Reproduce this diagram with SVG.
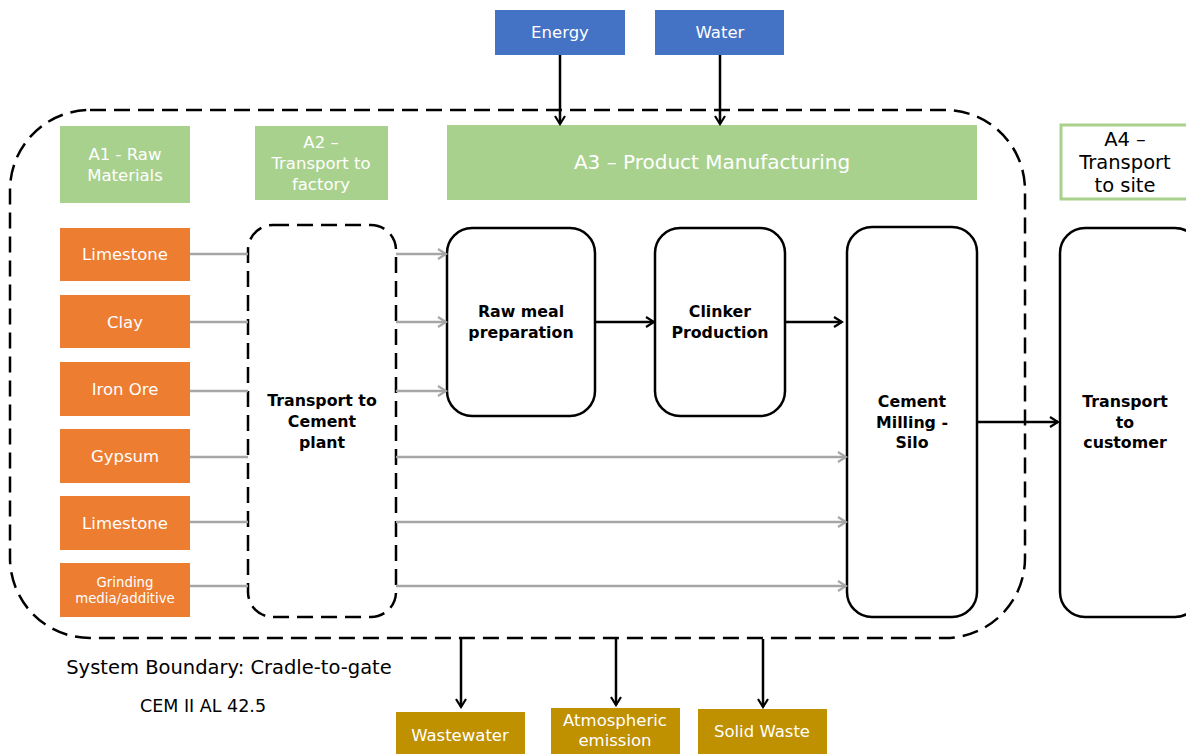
<svg xmlns="http://www.w3.org/2000/svg" width="1186" height="754" viewBox="0 0 1186 754">
<defs>
<style>
text{font-family:"DejaVu Sans","Noto Sans",sans-serif;text-anchor:middle}
.g{fill:#A9D18E}
.gt{fill:#fff;font-size:16.5px}
.o{fill:#ED7D31}
.ot{fill:#fff;font-size:16.5px}
.b{fill:#4472C4}
.y{fill:#BF9000}
.n{fill:#fff;stroke:#000;stroke-width:2.5}
.nt{fill:#000;font-size:15.8px;font-weight:bold}
.gl{stroke:#A6A6A6;stroke-width:2.5;fill:none}
.bl{stroke:#000;stroke-width:2.5;fill:none}
.dash{fill:none;stroke:#000;stroke-width:2.5;stroke-dasharray:16 8}
</style>
<marker id="ab" viewBox="0 0 12 12" refX="10" refY="6" markerWidth="12" markerHeight="12" markerUnits="userSpaceOnUse" orient="auto"><path d="M2,1 L10,6 L2,11" fill="none" stroke="#000" stroke-width="2.2"/></marker>
<marker id="ag" viewBox="0 0 12 12" refX="10" refY="6" markerWidth="12" markerHeight="12" markerUnits="userSpaceOnUse" orient="auto"><path d="M2,1 L10,6 L2,11" fill="none" stroke="#A6A6A6" stroke-width="2.2"/></marker>
</defs>
<rect width="1186" height="754" fill="#fff"/>
<g id="boundary"><rect class="dash" x="10" y="110" width="1015" height="528" rx="80"/></g>
<g id="a1"><rect class="g" x="60" y="126" width="130" height="77"/><text class="gt" x="125" y="160">A1 - Raw</text><text class="gt" x="125" y="181">Materials</text></g>
<g id="a2"><rect class="g" x="255" y="126" width="133" height="74"/><text class="gt" x="321" y="148">A2 –</text><text class="gt" x="321" y="169">Transport to</text><text class="gt" x="321" y="190">factory</text></g>
<g id="a3"><rect class="g" x="447" y="125" width="530" height="75"/><text class="gt" x="712" y="169" style="font-size:20px">A3 – Product Manufacturing</text></g>
<g id="a4"><rect x="1061" y="125" width="130" height="74" fill="#fff" stroke="#A9D18E" stroke-width="3"/><text x="1125" y="146" style="font-size:19.5px">A4 –</text><text x="1125" y="169" style="font-size:19.5px">Transport</text><text x="1125" y="192" style="font-size:19.5px">to site</text></g>
<g id="energy"><rect class="b" x="495" y="10" width="130" height="45"/><text class="gt" x="560" y="38">Energy</text></g>
<g id="water"><rect class="b" x="655" y="10" width="129" height="45"/><text class="gt" x="720" y="38">Water</text></g>
<g id="limestone1"><rect class="o" x="60" y="228" width="130" height="53"/><text class="ot" x="125" y="260">Limestone</text></g>
<g id="clay"><rect class="o" x="60" y="295" width="130" height="53"/><text class="ot" x="125" y="328">Clay</text></g>
<g id="ironore"><rect class="o" x="60" y="362" width="130" height="54"/><text class="ot" x="125" y="395">Iron Ore</text></g>
<g id="gypsum"><rect class="o" x="60" y="429" width="130" height="54"/><text class="ot" x="125" y="462">Gypsum</text></g>
<g id="limestone2"><rect class="o" x="60" y="496" width="130" height="54"/><text class="ot" x="125" y="529">Limestone</text></g>
<g id="grinding"><rect class="o" x="60" y="563" width="130" height="54"/><text class="ot" x="125" y="587" style="font-size:13.3px">Grinding</text><text class="ot" x="125" y="603" style="font-size:13.3px">media/additive</text></g>
<g id="transport"><rect class="dash" x="248" y="225" width="148" height="392" rx="25"/><text class="nt" x="322" y="406">Transport to</text><text class="nt" x="322" y="427">Cement</text><text class="nt" x="322" y="448">plant</text></g>
<g id="rawmeal"><rect class="n" x="447" y="228" width="148" height="188" rx="25"/><text class="nt" x="521" y="317">Raw meal</text><text class="nt" x="521" y="338">preparation</text></g>
<g id="clinker"><rect class="n" x="655" y="228" width="130" height="188" rx="25"/><text class="nt" x="720" y="317">Clinker</text><text class="nt" x="720" y="338">Production</text></g>
<g id="cement"><rect class="n" x="847" y="227" width="130" height="390" rx="25"/><text class="nt" x="912" y="407">Cement</text><text class="nt" x="912" y="428">Milling -</text><text class="nt" x="912" y="448">Silo</text></g>
<g id="customer"><rect class="n" x="1060" y="228" width="140" height="389" rx="25"/><text class="nt" x="1125" y="407">Transport</text><text class="nt" x="1125" y="428">to</text><text class="nt" x="1125" y="448">customer</text></g>
<g id="wastewater"><rect class="y" x="396" y="712" width="129" height="42"/><text class="ot" x="460" y="741">Wastewater</text></g>
<g id="atmospheric"><rect class="y" x="551" y="708" width="129" height="46"/><text class="ot" x="615" y="726">Atmospheric</text><text class="ot" x="615" y="746">emission</text></g>
<g id="solidwaste"><rect class="y" x="698" y="709" width="129" height="45"/><text class="ot" x="762" y="737">Solid Waste</text></g>
<g id="labels"><text x="229" y="674" style="font-size:19.5px">System Boundary: Cradle-to-gate</text><text x="203" y="712" style="font-size:17.5px">CEM II AL 42.5</text></g>
<g id="connectors">
<path class="gl" d="M190,254 H248 M190,322 H248 M190,391 H248 M190,457 H248 M190,522 H248 M190,586 H248"/>
<path class="gl" d="M396,254 H446" marker-end="url(#ag)"/>
<path class="gl" d="M396,322 H446" marker-end="url(#ag)"/>
<path class="gl" d="M396,391 H446" marker-end="url(#ag)"/>
<path class="gl" d="M396,457 H846" marker-end="url(#ag)"/>
<path class="gl" d="M396,522 H846" marker-end="url(#ag)"/>
<path class="gl" d="M396,586 H846" marker-end="url(#ag)"/>
<path class="bl" d="M595,322 H654" marker-end="url(#ab)"/>
<path class="bl" d="M785,322 H842" marker-end="url(#ab)"/>
<path class="bl" d="M977,422 H1058" marker-end="url(#ab)"/>
<path class="bl" d="M560,55 V124" marker-end="url(#ab)"/>
<path class="bl" d="M720,55 V124" marker-end="url(#ab)"/>
<path class="bl" d="M461,639 V707" marker-end="url(#ab)"/>
<path class="bl" d="M616,639 V705" marker-end="url(#ab)"/>
<path class="bl" d="M763,639 V707" marker-end="url(#ab)"/>
</g>
</svg>
